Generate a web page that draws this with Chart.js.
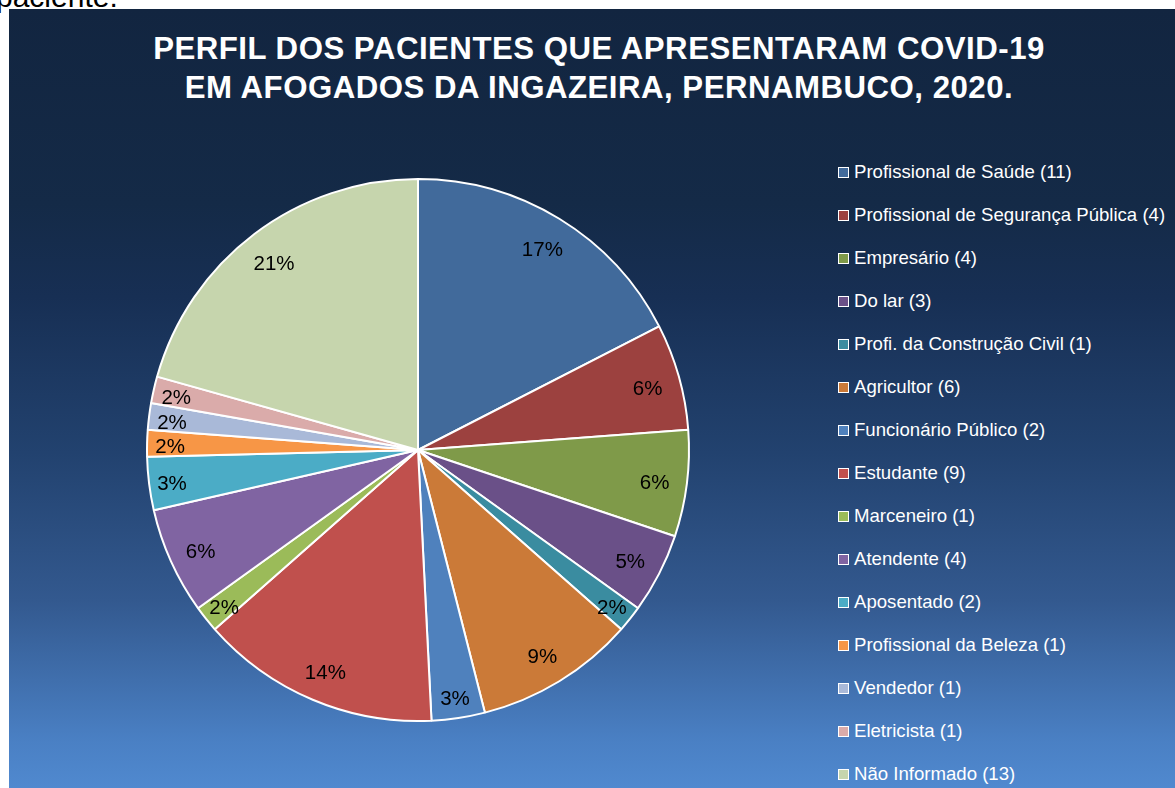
<!DOCTYPE html>
<html>
<head>
<meta charset="utf-8">
<script src="https://cdn.jsdelivr.net/npm/chart.js@4.4.1/dist/chart.umd.min.js"></script>
<style>
  html, body { margin: 0; padding: 0; background: #ffffff; width: 1175px; height: 788px; overflow: hidden; }
  body { position: relative; font-family: "Liberation Sans", Arial, sans-serif; }
  #topText { position: absolute; left: -4px; top: -18px; font-size: 30px; line-height: 30px; color: #000; white-space: nowrap; }
  #panel { position: absolute; left: 9px; top: 9px; width: 1166px; height: 779px;
    background: linear-gradient(to bottom, #122540 0%, #142a47 25%, #172f54 37%, #22426f 57%, #33598f 76%, #4a80c4 94%, #5089cf 100%); overflow: hidden; }
  #title { position: absolute; left: 90px; width: 1000px; top: 20px; text-align: center; color: #fff;
    font-weight: bold; font-size: 31.2px; line-height: 39px; letter-spacing: 0.5px; white-space: nowrap; }
  #chartBox { position: absolute; left: 129px; top: 161px; width: 560px; height: 560px; }
  #legend { position: absolute; left: 0; top: 0; }
  .li { position: absolute; left: 829px; height: 20px; display: flex; align-items: center; color: #fff; font-size: 18.6px; white-space: nowrap; }
  .sw { width: 9px; height: 9px; border: 1px solid #fff; margin-right: 5px; box-sizing: content-box; }
</style>
</head>
<body>
<div id="topText">paciente.</div>
<div id="panel">
  <div id="title">PERFIL DOS PACIENTES QUE APRESENTARAM COVID-19<br>EM AFOGADOS DA INGAZEIRA, PERNAMBUCO, 2020.</div>
  <div id="chartBox"><canvas id="c" width="560" height="560"></canvas></div>
  <div id="legend"></div>
</div>
<script>
const categories = [
  "Profissional de Saúde (11)",
  "Profissional de Segurança Pública (4)",
  "Empresário (4)",
  "Do lar (3)",
  "Profi. da Construção Civil (1)",
  "Agricultor (6)",
  "Funcionário Público (2)",
  "Estudante (9)",
  "Marceneiro (1)",
  "Atendente (4)",
  "Aposentado (2)",
  "Profissional da Beleza (1)",
  "Vendedor (1)",
  "Eletricista (1)",
  "Não Informado (13)"
];
const counts = [11, 4, 4, 3, 1, 6, 2, 9, 1, 4, 2, 1, 1, 1, 13];
const percentLabels = ["17%", "6%", "6%", "5%", "2%", "9%", "3%", "14%", "2%", "6%", "3%", "2%", "2%", "2%", "21%"];
const sliceColors = [
  "#416a9b", "#9c413f", "#7f9a49", "#6a5088", "#3a8ca0", "#cb7a38",
  "#4f81bd", "#c0504d", "#9bbb59", "#8064a2", "#4bacc6", "#f79646",
  "#a9b9d8", "#daabaa", "#c6d5ad"
];

// HTML legend built from the arrays
const legend = document.getElementById('legend');
categories.forEach((name, i) => {
  const row = document.createElement('div');
  row.className = 'li';
  row.style.top = (163 + 43 * i - 10) + 'px';
  const sw = document.createElement('span');
  sw.className = 'sw';
  sw.style.background = sliceColors[i];
  const tx = document.createElement('span');
  tx.textContent = name;
  row.appendChild(sw);
  row.appendChild(tx);
  legend.appendChild(row);
});

const labelPlugin = {
  id: 'pctLabels',
  afterDatasetsDraw(chart) {
    const ctx = chart.ctx;
    const meta = chart.getDatasetMeta(0);
    ctx.save();
    ctx.font = '20.5px "Liberation Sans", Arial, sans-serif';
    ctx.fillStyle = '#000000';
    ctx.textAlign = 'center';
    ctx.textBaseline = 'middle';
    meta.data.forEach((arc, i) => {
      const p = arc.getProps(['x', 'y', 'startAngle', 'endAngle', 'outerRadius'], true);
      const mid = (p.startAngle + p.endAngle) / 2;
      const span = p.endAngle - p.startAngle;
      const f = span < 0.25 ? 0.915 : 0.88;
      const r = p.outerRadius * f;
      ctx.fillText(percentLabels[i], p.x + Math.cos(mid) * r, p.y + Math.sin(mid) * r + 4);
    });
    ctx.restore();
  }
};

new Chart(document.getElementById('c'), {
  type: 'pie',
  data: {
    labels: categories,
    datasets: [{
      data: counts,
      backgroundColor: sliceColors,
      borderColor: '#ffffff',
      borderWidth: 2,
      radius: 271
    }]
  },
  options: {
    responsive: false,
    animation: false,
    layout: { padding: 0 },
    plugins: {
      legend: { display: false },
      title: { display: false },
      tooltip: { enabled: false }
    }
  },
  plugins: [labelPlugin]
});
</script>
</body>
</html>
